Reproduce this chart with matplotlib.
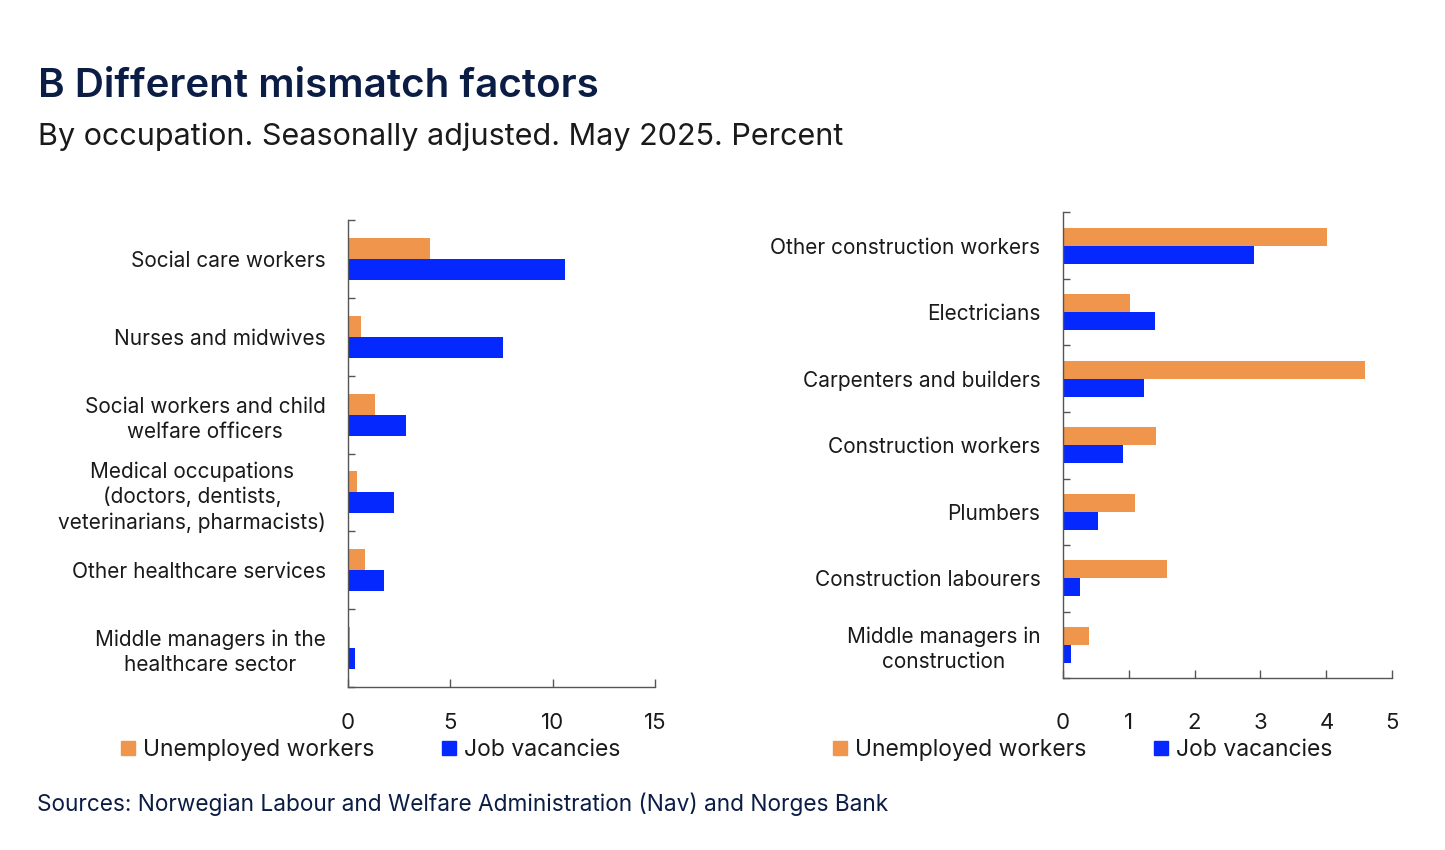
import matplotlib
matplotlib.use("Agg")
import matplotlib.pyplot as plt
from matplotlib.patches import Patch
import numpy as np

plt.rcParams['font.family'] = ['Inter', 'DejaVu Sans']

# ---- data ----
health_cats = ["Social care workers", "Nurses and midwives",
               "Social workers and child\nwelfare officers",
               "Medical occupations\n(doctors, dentists,\nveterinarians, pharmacists)",
               "Other healthcare services",
               "Middle managers in the\nhealthcare sector"]
health_unemployed = [4.02, 0.65, 1.32, 0.44, 0.83, 0.10]
health_vacancies = [10.62, 7.55, 2.81, 2.26, 1.76, 0.33]

constr_cats = ["Other construction workers", "Electricians",
               "Carpenters and builders", "Construction workers",
               "Plumbers", "Construction labourers",
               "Middle managers in\nconstruction"]
constr_unemployed = [4.01, 1.02, 4.58, 1.42, 1.09, 1.58, 0.40]
constr_vacancies = [2.90, 1.40, 1.24, 0.91, 0.54, 0.26, 0.13]

left_xticks = [0, 5, 10, 15]
right_xticks = [0, 1, 2, 3, 4, 5]

ORANGE = "#EF964C"
BLUE = "#0528FF"
NAVY = "#0B1D45"
TXT = "#1A1A1A"

W, H = 1445, 850
fig = plt.figure(figsize=(W / 100, H / 100), dpi=100)


def px_axes(x0, y0, x1, y1):
    return fig.add_axes([x0 / W, 1 - y1 / H, (x1 - x0) / W, (y1 - y0) / H])


def draw(ax, cats, unemp, vac, xmax, xticks, xpad):
    n = len(cats)
    y = np.arange(n)
    h = 0.27
    ax.barh(y - h / 2, unemp, height=h, color=ORANGE, label="Unemployed workers")
    ax.barh(y + h / 2, vac, height=h, color=BLUE, label="Job vacancies")
    ax.set_ylim(n - 0.5, -0.5)
    ax.set_xlim(0, xmax)
    ax.set_yticks(y)
    ax.set_yticklabels(cats, multialignment='center', linespacing=1.32)
    ax.set_yticks(np.arange(n + 1) - 0.5, minor=True)
    ax.tick_params(axis='y', which='major', length=0, pad=16, labelsize=15, labelcolor=TXT)
    ax.tick_params(axis='y', which='minor', length=5, width=1, direction='in', color='#555555')
    ax.set_xticks(xticks)
    ax.tick_params(axis='x', which='major', length=6, width=1, direction='in',
                   color='#555555', pad=xpad, labelsize=16, labelcolor=TXT)
    for s in ('top', 'right'):
        ax.spines[s].set_visible(False)
    for s in ('left', 'bottom'):
        ax.spines[s].set_color('#555555')
        ax.spines[s].set_linewidth(1)


axL = px_axes(348, 220, 655, 687)
draw(axL, health_cats, health_unemployed, health_vacancies, 15, left_xticks, 19)

axR = px_axes(1062.7, 212.3, 1392.3, 678.3)
draw(axR, constr_cats, constr_unemployed, constr_vacancies, 5, right_xticks, 25)

handles = [Patch(color=ORANGE, label="Unemployed workers"),
           Patch(color=BLUE, label="Job vacancies")]
for xpos in (121, 833):
    fig.legend(handles=handles, loc='center left', bbox_to_anchor=(xpos / W, 1 - 750 / H),
               ncol=2, frameon=False, fontsize=16.5, handlelength=0.6, handleheight=0.6,
               handletextpad=0.35, columnspacing=2.95, borderpad=0, borderaxespad=0,
               labelcolor=TXT)

fig.text(38 / W, 1 - 97 / H, "B Different mismatch factors", fontsize=29,
         fontweight='semibold', color=NAVY, va='baseline', ha='left')
fig.text(38 / W, 1 - 145 / H, "By occupation. Seasonally adjusted. May 2025. Percent",
         fontsize=22, color=TXT, va='baseline', ha='left')
fig.text(37 / W, 1 - 811 / H,
         "Sources: Norwegian Labour and Welfare Administration (Nav) and Norges Bank",
         fontsize=16.3, color=NAVY, va='baseline', ha='left')

fig.savefig("out.png", dpi=100)
